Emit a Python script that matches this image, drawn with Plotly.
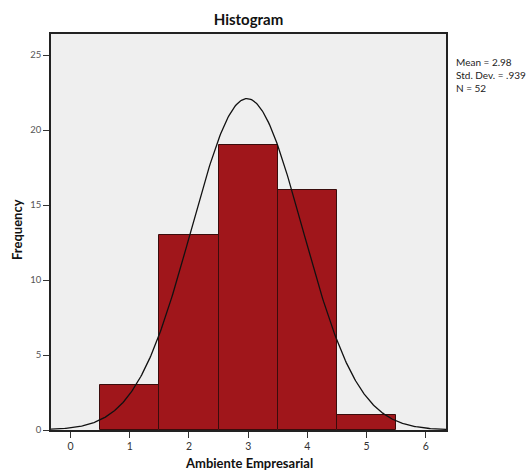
import numpy as np
import plotly.graph_objects as go

# Frequency table for "Ambiente Empresarial"
categories = [1, 2, 3, 4, 5]
frequencies = [3, 13, 19, 16, 1]
mean_value = 2.98
std_dev = 0.939
n_obs = 52
x_ticks = [0, 1, 2, 3, 4, 5, 6]
y_ticks = [0, 5, 10, 15, 20, 25]

# Normal curve scaled to counts (bin width 1)
curve_x = np.linspace(-0.5, 6.5, 400)
curve_y = n_obs * 1.0 / (std_dev * np.sqrt(2 * np.pi)) * np.exp(-0.5 * ((curve_x - mean_value) / std_dev) ** 2)

font_family = "Lato, 'DejaVu Sans', sans-serif"

W, H = 526, 471
L, R, T, B = 51, 80, 34, 41
plot_w = W - L - R
plot_h = H - T - B

fig = go.Figure()
fig.add_trace(go.Bar(
    x=categories, y=frequencies, width=1,
    marker=dict(color="#A0161B", line=dict(color="#3A0C0C", width=1)),
    showlegend=False, hoverinfo="x+y",
))
fig.add_trace(go.Scatter(
    x=curve_x, y=curve_y, mode="lines",
    line=dict(color="#111111", width=1.3),
    showlegend=False, hoverinfo="skip",
))

fig.update_layout(
    width=W, height=H,
    margin=dict(l=L, r=R, t=T, b=B, autoexpand=False),
    paper_bgcolor="white",
    plot_bgcolor="#EFEFEF",
    font=dict(family=font_family, color="#333333", size=10),
    title=dict(text="<b>Histogram</b>", x=(L + W - R) / 2 / W, xanchor="center",
               y=1 - 20 / H, yanchor="middle",
               font=dict(size=15, color="#111111", family=font_family)),
    bargap=0,
    xaxis=dict(
        range=[-0.33, 6.34], tickvals=x_ticks, ticktext=[str(v) for v in x_ticks],
        ticks="outside", ticklen=6, tickcolor="#333333", tickwidth=1,
        showgrid=False, zeroline=False, automargin=False,
        showline=True, linecolor="#222222", linewidth=1.5, mirror=True,
        tickfont=dict(size=10.5, color="#333333"),
    ),
    yaxis=dict(
        range=[0, 26.4], tickvals=y_ticks, ticktext=[str(v) for v in y_ticks],
        ticks="outside", ticklen=6, tickcolor="#333333", tickwidth=1,
        showgrid=False, zeroline=False, automargin=False,
        showline=True, linecolor="#222222", linewidth=1.5, mirror=True,
        tickfont=dict(size=9.5, color="#555555"),
    ),
    annotations=[
        dict(
            text="Mean = 2.98<br>Std. Dev. = .939<br>N = 52",
            xref="paper", yref="paper", x=(454 - L) / plot_w, y=(H - B - 54) / plot_h,
            xanchor="left", yanchor="top", align="left", showarrow=False,
            font=dict(size=10, color="#222222", family=font_family),
        ),
        dict(
            text="<b>Ambiente Empresarial</b>",
            xref="paper", yref="paper", x=0.5, y=-(463 - (H - B)) / plot_h,
            xanchor="center", yanchor="middle", showarrow=False,
            font=dict(size=13, color="#111111", family=font_family),
        ),
        dict(
            text="<b>Frequency</b>", textangle=-90,
            xref="paper", yref="paper", x=-(L - 17) / plot_w, y=(H - B - 230) / plot_h,
            xanchor="center", yanchor="middle", showarrow=False,
            font=dict(size=13, color="#111111", family=font_family),
        ),
    ],
)

fig.write_html("out.html")
